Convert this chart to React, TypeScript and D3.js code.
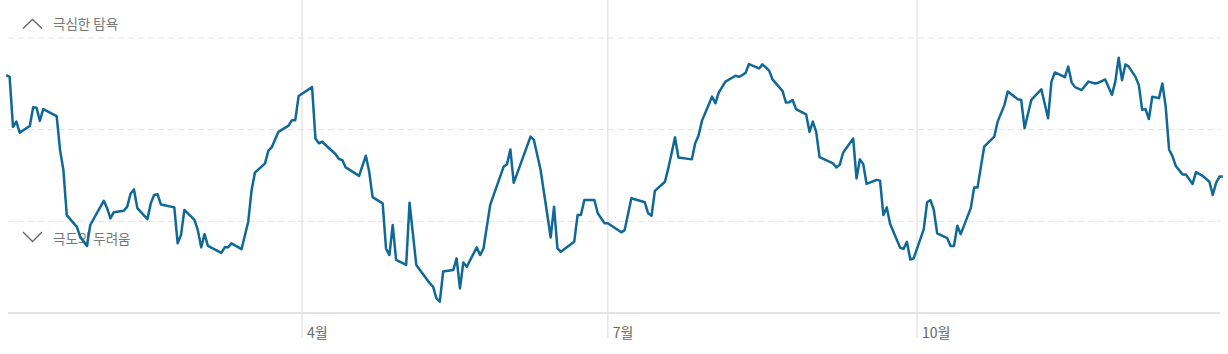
import React from "react";
import * as d3 from "d3";

// Fear & Greed style index, 2023 (day of year from Jan 1 = 0)
const days = [
  2, 3, 4, 5, 6, 9, 10, 11, 12, 13, 17, 18, 19, 20, 23, 24, 26, 27, 31, 32, 33, 34, 37, 38, 39, 40, 41, 44, 45, 46, 47, 48, 52, 53, 54, 55, 58, 59, 60, 61, 62, 66, 67, 68, 69, 72, 74, 75, 76, 79, 80, 81, 83, 86, 87, 88, 89, 93, 94, 95,
  96, 100, 101, 102, 103, 107, 109, 110, 111, 114, 115, 116, 117, 118, 121, 122, 124, 128, 129, 130, 131, 132, 135, 136, 137, 138, 139, 142, 143, 144, 146, 150, 151, 152, 153, 158, 159, 161, 164, 165, 166, 167, 171, 172, 173, 174, 177, 178, 180, 181,
  185, 186, 188, 192, 193, 194, 195, 198, 199, 201, 202, 206, 207, 208, 209, 212, 213, 214, 216, 219, 220, 221, 222, 223, 226, 227, 228, 229, 230, 233, 234, 235, 236, 237, 240, 241, 242, 243, 244, 248, 249, 250, 251, 254, 255, 256, 257, 258, 261, 262, 263, 264, 265, 268, 269, 270, 271, 272,
  275, 276, 277, 278, 279, 282, 283, 284, 285, 286, 289, 290, 291, 293, 296, 297, 299, 300, 303, 304, 305, 307, 310, 312, 313, 314, 317, 318, 319, 320, 322, 324, 326, 327, 329, 331, 332, 333, 334, 335, 336, 338, 339, 340, 341, 342, 343, 345, 346, 347, 348, 349, 350, 352, 353, 355, 356, 358, 360, 361, 362, 363, 364,
];
const values = [
  64.9, 64.4, 50.8, 52.2, 49.2, 51.0, 56.1, 56.0, 52.4, 55.6, 53.7, 44.5, 39.0, 26.7, 23.5, 20.8, 18.3, 24.0, 30.6, 28.6, 25.8, 27.5, 27.9, 29.0, 32.6, 33.7, 28.6, 25.6, 29.9, 32.2, 32.4, 29.6, 28.8, 19.0, 21.3, 28.1, 25.4, 22.6, 17.9, 21.5, 18.3, 16.4, 17.9, 17.9, 19.0, 17.4, 24.9, 33.5, 38.3, 40.8, 44.3, 45.2, 49.4, 51.1, 52.6, 52.6, 59.2, 61.6, 47.6, 46.3,
  46.7, 43.3, 42.0, 41.7, 39.7, 37.4, 42.9, 38.5, 31.6, 29.9, 17.6, 15.8, 24.0, 14.5, 13.1, 30.1, 13.1, 8.1, 7.2, 4.0, 3.1, 11.3, 11.7, 14.9, 6.7, 13.8, 12.6, 17.9, 15.8, 17.6, 29.5, 39.9, 40.6, 44.6, 35.5, 48.1, 47.2, 39.0, 20.6, 29.0, 17.6, 16.7, 19.4, 26.7, 26.7, 30.8, 30.8, 27.2, 24.5, 24.5,
  22.0, 22.6, 31.3, 30.2, 27.2, 26.5, 33.3, 35.8, 39.5, 47.9, 42.4, 41.9, 46.3, 48.4, 52.4, 59.0, 57.2, 60.1, 63.1, 64.7, 64.4, 64.9, 65.5, 67.9, 66.7, 67.8, 67.0, 66.1, 63.7, 60.5, 57.4, 57.5, 58.1, 55.6, 54.2, 49.4, 52.2, 49.4, 42.5, 40.8, 39.7, 40.4, 43.7, 47.6, 36.7, 41.9, 40.6, 35.2, 36.3, 36.1, 26.7, 28.8, 24.3, 17.8, 17.5, 19.4, 14.6, 14.9,
  22.8, 30.2, 30.8, 28.1, 21.7, 20.4, 18.3, 18.3, 23.8, 21.5, 28.6, 34.2, 34.2, 45.4, 48.1, 52.2, 56.7, 60.4, 58.3, 58.1, 50.4, 58.1, 61.0, 53.1, 63.1, 65.6, 64.3, 67.2, 62.9, 61.6, 60.8, 63.1, 62.6, 62.8, 63.7, 59.5, 63.1, 69.6, 63.5, 67.8, 67.2, 64.4, 62.2, 55.4, 55.6, 52.9, 59.0, 58.6, 62.6, 56.3, 44.6, 42.8, 40.1, 37.8, 37.8, 35.2, 38.4, 37.4, 35.8, 32.2, 35.5, 37.2, 37.2,
];
const gridValues = [25, 50, 75];
const topLabel = "극심한 탐욕";
const bottomLabel = "극도의 두려움";
const monthTicks = [3, 6, 9]; // Apr, Jul, Oct (0-based month)
const monthLabel = (m: number) => `${m + 1}월`;

const W = 1228;
const H = 354;
const FONT = "'Noto Sans CJK KR', 'Noto Sans', sans-serif";

export default function App() {
  const start = new Date(2023, 0, 1);
  const x = d3
    .scaleTime()
    .domain([start, new Date(2024, 0, 1)])
    .range([-0.46, -0.46 + 3.3607 * 365]);
  const y = d3.scaleLinear().domain([0, 100]).range([313, 313 - 366.67]);

  const data = days.map((d, i) => ({ date: d3.timeDay.offset(start, d), v: values[i] }));
  const line = d3
    .line<{ date: Date; v: number }>()
    .x((d) => x(d.date))
    .y((d) => y(d.v));

  const left = 8;
  const right = 1220;

  return (
    <svg
      width={W}
      height={H}
      style={{ position: "absolute", left: 0, top: 0, background: "#fff" }}
      fontFamily={FONT}
    >
      {/* vertical month lines */}
      {monthTicks.map((m) => {
        const xx = x(new Date(2023, m, 1));
        return (
          <g key={m}>
            <line x1={xx} x2={xx} y1={0} y2={338} stroke="#e6e6e6" strokeWidth={1.5} />
            <text x={xx + 5} y={337.5} fontSize={14} fill="#666">
              {monthLabel(m)}
            </text>
          </g>
        );
      })}
      {/* dashed grid */}
      {gridValues.map((g) => (
        <line
          key={g}
          x1={left}
          x2={right}
          y1={y(g)}
          y2={y(g)}
          stroke="#e2e2e2"
          strokeWidth={1}
          strokeDasharray="6 4"
        />
      ))}
      {/* baseline */}
      <line x1={left} x2={right} y1={y(0)} y2={y(0)} stroke="#e3e3e3" strokeWidth={2} />

      {/* zone labels */}
      <polyline points="23,28.5 32.5,19.5 42,28.5" fill="none" stroke="#666" strokeWidth={1.4} />
      <text x={53} y={28.5} fontSize={13.5} fill="#777">
        {topLabel}
      </text>
      <polyline points="23,232 32.5,241.5 42,232" fill="none" stroke="#666" strokeWidth={1.4} />
      <text x={53} y={243.5} fontSize={13.5} fill="#777">
        {bottomLabel}
      </text>

      {/* index line */}
      <path d={line(data) || ""} fill="none" stroke="#0f6896" strokeWidth={2.5} strokeLinejoin="round" />
    </svg>
  );
}
